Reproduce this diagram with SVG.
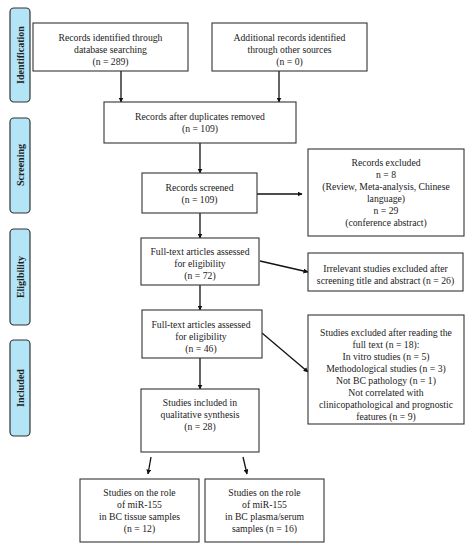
<svg xmlns="http://www.w3.org/2000/svg" width="473" height="550" viewBox="0 0 473 550">
<style>
.box{fill:#fff;stroke:#333;stroke-width:1.1}
.side{fill:#b3e5f7;stroke:#333;stroke-width:1.2}
.t{font-family:"Liberation Serif","DejaVu Serif",serif;font-size:9.7px;fill:#222;text-anchor:middle}
.s{font-family:"Liberation Serif","DejaVu Serif",serif;font-size:10px;font-weight:bold;fill:#222;text-anchor:middle}
.c{stroke:#111;stroke-width:1.3;fill:none;marker-end:url(#ah)}
</style>
<defs>
<marker id="ah" viewBox="0 0 10 10" refX="9" refY="5" markerWidth="5" markerHeight="5" orient="auto" markerUnits="userSpaceOnUse">
<path d="M0,0 L10,5 L0,10 z" fill="#111"/>
</marker>
</defs>
<rect width="473" height="550" fill="#fff"/>
<g id="phase-identification"><rect class="side" x="10" y="8" width="20" height="94" rx="4"/><text class="s" transform="translate(23.5,55) rotate(-90)">Identification</text></g>
<g id="phase-screening"><rect class="side" x="10" y="118" width="20" height="95" rx="4"/><text class="s" transform="translate(23.5,165) rotate(-90)">Screening</text></g>
<g id="phase-eligibility"><rect class="side" x="10" y="229" width="20" height="96" rx="4"/><text class="s" transform="translate(23.5,277) rotate(-90)">Eligibility</text></g>
<g id="phase-included"><rect class="side" x="10" y="340" width="20" height="96" rx="4"/><text class="s" transform="translate(23.5,388) rotate(-90)">Included</text></g>

<g id="connectors">
<line class="c" x1="121" y1="71" x2="121" y2="102"/>
<line class="c" x1="279" y1="71" x2="279" y2="102"/>
<line class="c" x1="200" y1="143" x2="200" y2="173"/>
<line class="c" x1="257" y1="194" x2="302" y2="194"/>
<line class="c" x1="200" y1="213" x2="200" y2="238"/>
<line class="c" x1="260" y1="261" x2="308" y2="272"/>
<line class="c" x1="200" y1="285" x2="200" y2="310"/>
<line class="c" x1="262" y1="333" x2="308" y2="372"/>
<line class="c" x1="200" y1="358" x2="200" y2="389"/>
<line class="c" x1="151" y1="457" x2="148" y2="474"/>
<line class="c" x1="243" y1="457" x2="247" y2="474"/>
</g>

<g id="n-database"><rect class="box" x="33" y="23" width="155" height="48"/>
<text class="t" x="110.5" y="40.5">Records identified through</text>
<text class="t" x="110.5" y="52.5">database searching</text>
<text class="t" x="110.5" y="64.5">(n = 289)</text></g>

<g id="n-other"><rect class="box" x="212" y="23" width="155" height="48"/>
<text class="t" x="289.5" y="40.5">Additional records identified</text>
<text class="t" x="289.5" y="52.5">through other sources</text>
<text class="t" x="289.5" y="64.5">(n = 0)</text></g>

<g id="n-duplicates"><rect class="box" x="104" y="102" width="192" height="41"/>
<text class="t" x="200" y="119.5">Records after duplicates removed</text>
<text class="t" x="200" y="131.5">(n = 109)</text></g>

<g id="n-screened"><rect class="box" x="142" y="173" width="115" height="40"/>
<text class="t" x="199.5" y="190.5">Records screened</text>
<text class="t" x="199.5" y="202.5">(n = 109)</text></g>

<g id="n-excluded"><rect class="box" x="308" y="149" width="156" height="87"/>
<text class="t" x="386" y="165.5">Records excluded</text>
<text class="t" x="386" y="177.5">n = 8</text>
<text class="t" x="386" y="189.5">(Review, Meta-analysis, Chinese</text>
<text class="t" x="386" y="201.5">language)</text>
<text class="t" x="386" y="213.5">n = 29</text>
<text class="t" x="386" y="225.5">(conference abstract)</text></g>

<g id="n-fulltext72"><rect class="box" x="141" y="238" width="118" height="47"/>
<text class="t" x="200" y="254.5">Full-text articles assessed</text>
<text class="t" x="200" y="266.5">for eligibility</text>
<text class="t" x="200" y="278.5">(n = 72)</text></g>

<g id="n-irrelevant"><rect class="box" x="308" y="253" width="155" height="38"/>
<text class="t" x="385.5" y="271.5">Irrelevant studies excluded after</text>
<text class="t" x="385.5" y="283.5">screening title and abstract (n = 26)</text></g>

<g id="n-fulltext46"><rect class="box" x="142" y="310" width="120" height="48"/>
<text class="t" x="201" y="327.5">Full-text articles assessed</text>
<text class="t" x="201" y="339.5">for eligibility</text>
<text class="t" x="201" y="351.5">(n = 46)</text></g>

<g id="n-studies-excluded"><rect class="box" x="308" y="315" width="156" height="109"/>
<text class="t" x="386" y="335.5">Studies excluded after reading the</text>
<text class="t" x="386" y="347.5">full text (n = 18):</text>
<text class="t" x="386" y="359.5">In vitro studies (n = 5)</text>
<text class="t" x="386" y="371.5">Methodological studies (n = 3)</text>
<text class="t" x="386" y="383.5">Not BC pathology (n = 1)</text>
<text class="t" x="386" y="395.5">Not correlated with</text>
<text class="t" x="386" y="407.5">clinicopathological and prognostic</text>
<text class="t" x="386" y="419.5">features (n = 9)</text></g>

<g id="n-included"><rect class="box" x="141" y="389" width="118" height="63"/>
<text class="t" x="200" y="405.5">Studies included in</text>
<text class="t" x="200" y="417.5">qualitative synthesis</text>
<text class="t" x="200" y="429.5">(n = 28)</text></g>

<g id="n-tissue"><rect class="box" x="80" y="479" width="119" height="63"/>
<text class="t" x="139.5" y="495.5">Studies on the role</text>
<text class="t" x="139.5" y="507.5">of miR-155</text>
<text class="t" x="139.5" y="519.5">in BC tissue samples</text>
<text class="t" x="139.5" y="531.5">(n = 12)</text></g>

<g id="n-plasma"><rect class="box" x="205" y="479" width="119" height="63"/>
<text class="t" x="264.5" y="495.5">Studies on the role</text>
<text class="t" x="264.5" y="507.5">of miR-155</text>
<text class="t" x="264.5" y="519.5">in BC plasma/serum</text>
<text class="t" x="264.5" y="531.5">samples (n = 16)</text></g>
</svg>
